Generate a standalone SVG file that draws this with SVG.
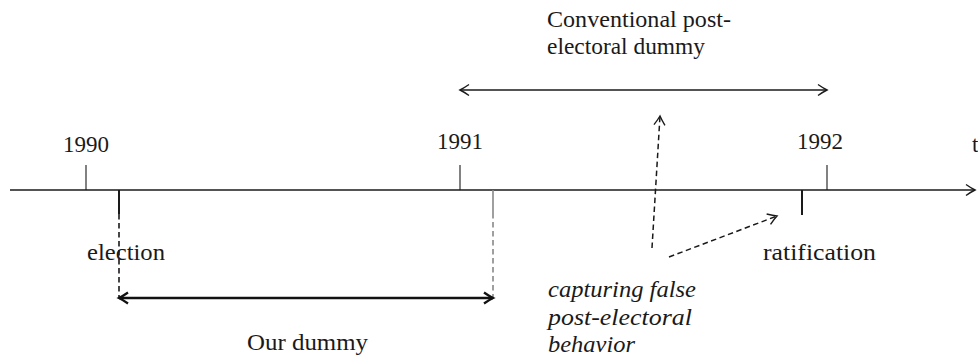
<svg xmlns="http://www.w3.org/2000/svg" width="978" height="359" viewBox="0 0 978 359">
<style>
  .ln { stroke: #1a1a1a; fill: none; }
  .dash { stroke-dasharray: 5.5 3.5; }
</style>
<defs>
  <marker id="ah" markerUnits="userSpaceOnUse" markerWidth="16" markerHeight="16" refX="12" refY="8" orient="auto-start-reverse">
    <path d="M3,2.5 Q8.5,6.3 12,8 Q8.5,9.7 3,13.5" fill="none" stroke="#1a1a1a" stroke-width="1.4"/>
  </marker>
  <marker id="ahb" markerUnits="userSpaceOnUse" markerWidth="16" markerHeight="16" refX="12" refY="8" orient="auto-start-reverse">
    <path d="M3,2.5 Q8.5,6.3 12,8 Q8.5,9.7 3,13.5" fill="none" stroke="#111" stroke-width="2.3"/>
  </marker>
</defs>
<rect width="978" height="359" fill="#fff"/>
<g id="connectors">
  <line id="axis" class="ln" x1="10" y1="190" x2="975" y2="190" stroke-width="1.5" marker-end="url(#ah)"/>
  <line class="ln" x1="86" y1="165" x2="86" y2="190" stroke-width="1.1"/>
  <line class="ln" x1="460" y1="165" x2="460" y2="190" stroke-width="1.1"/>
  <line class="ln" x1="827" y1="165" x2="827" y2="190" stroke-width="1.1"/>
  <line class="ln" x1="119" y1="190" x2="119" y2="214" stroke-width="2"/>
  <line class="ln dash" x1="119" y1="214" x2="119" y2="298" stroke-width="1.6"/>
  <line x1="493" y1="190" x2="493" y2="213" stroke="#888" stroke-width="1.6"/>
  <line class="dash" x1="493" y1="213" x2="493" y2="298" stroke="#888" stroke-width="1.6"/>
  <line class="ln" x1="802" y1="190" x2="802" y2="215" stroke-width="2"/>
  <line id="our-dummy-arrow" x1="119" y1="298" x2="493" y2="298" stroke="#111" stroke-width="2.3" marker-start="url(#ahb)" marker-end="url(#ahb)"/>
  <line id="conv-arrow" class="ln" x1="460" y1="90" x2="827" y2="90" stroke-width="1.4" marker-start="url(#ah)" marker-end="url(#ah)"/>
  <line class="ln dash" x1="652" y1="248" x2="660" y2="116" stroke-width="1.5" marker-end="url(#ah)"/>
  <line class="ln dash" x1="669" y1="257" x2="777" y2="216" stroke-width="1.5" marker-end="url(#ah)"/>
</g>
<g font-family="'Liberation Serif', serif" font-size="23" fill="#1a1a1a">
<g id="year-1990"><text x="86" y="152" text-anchor="middle">1990</text></g>
<g id="year-1991"><text x="460" y="149" text-anchor="middle">1991</text></g>
<g id="year-1992"><text x="820" y="149" text-anchor="middle">1992</text></g>
<g id="t-label"><text x="972" y="152">t</text></g>
<g id="election"><text x="87" y="260" textLength="78" lengthAdjust="spacingAndGlyphs">election</text></g>
<g id="ratification"><text x="763" y="260" textLength="113" lengthAdjust="spacingAndGlyphs">ratification</text></g>
<g id="our-dummy"><text x="247" y="350" textLength="121" lengthAdjust="spacingAndGlyphs">Our dummy</text></g>
<g id="conventional">
  <text x="547" y="27" textLength="184" lengthAdjust="spacingAndGlyphs">Conventional post-</text>
  <text x="547" y="54" textLength="158" lengthAdjust="spacingAndGlyphs">electoral dummy</text>
</g>
<g id="capturing" font-style="italic">
  <text x="548" y="297" textLength="148" lengthAdjust="spacingAndGlyphs">capturing false</text>
  <text x="548" y="325" textLength="144" lengthAdjust="spacingAndGlyphs">post-electoral</text>
  <text x="548" y="352" textLength="87" lengthAdjust="spacingAndGlyphs">behavior</text>
</g>
</g>
</svg>
